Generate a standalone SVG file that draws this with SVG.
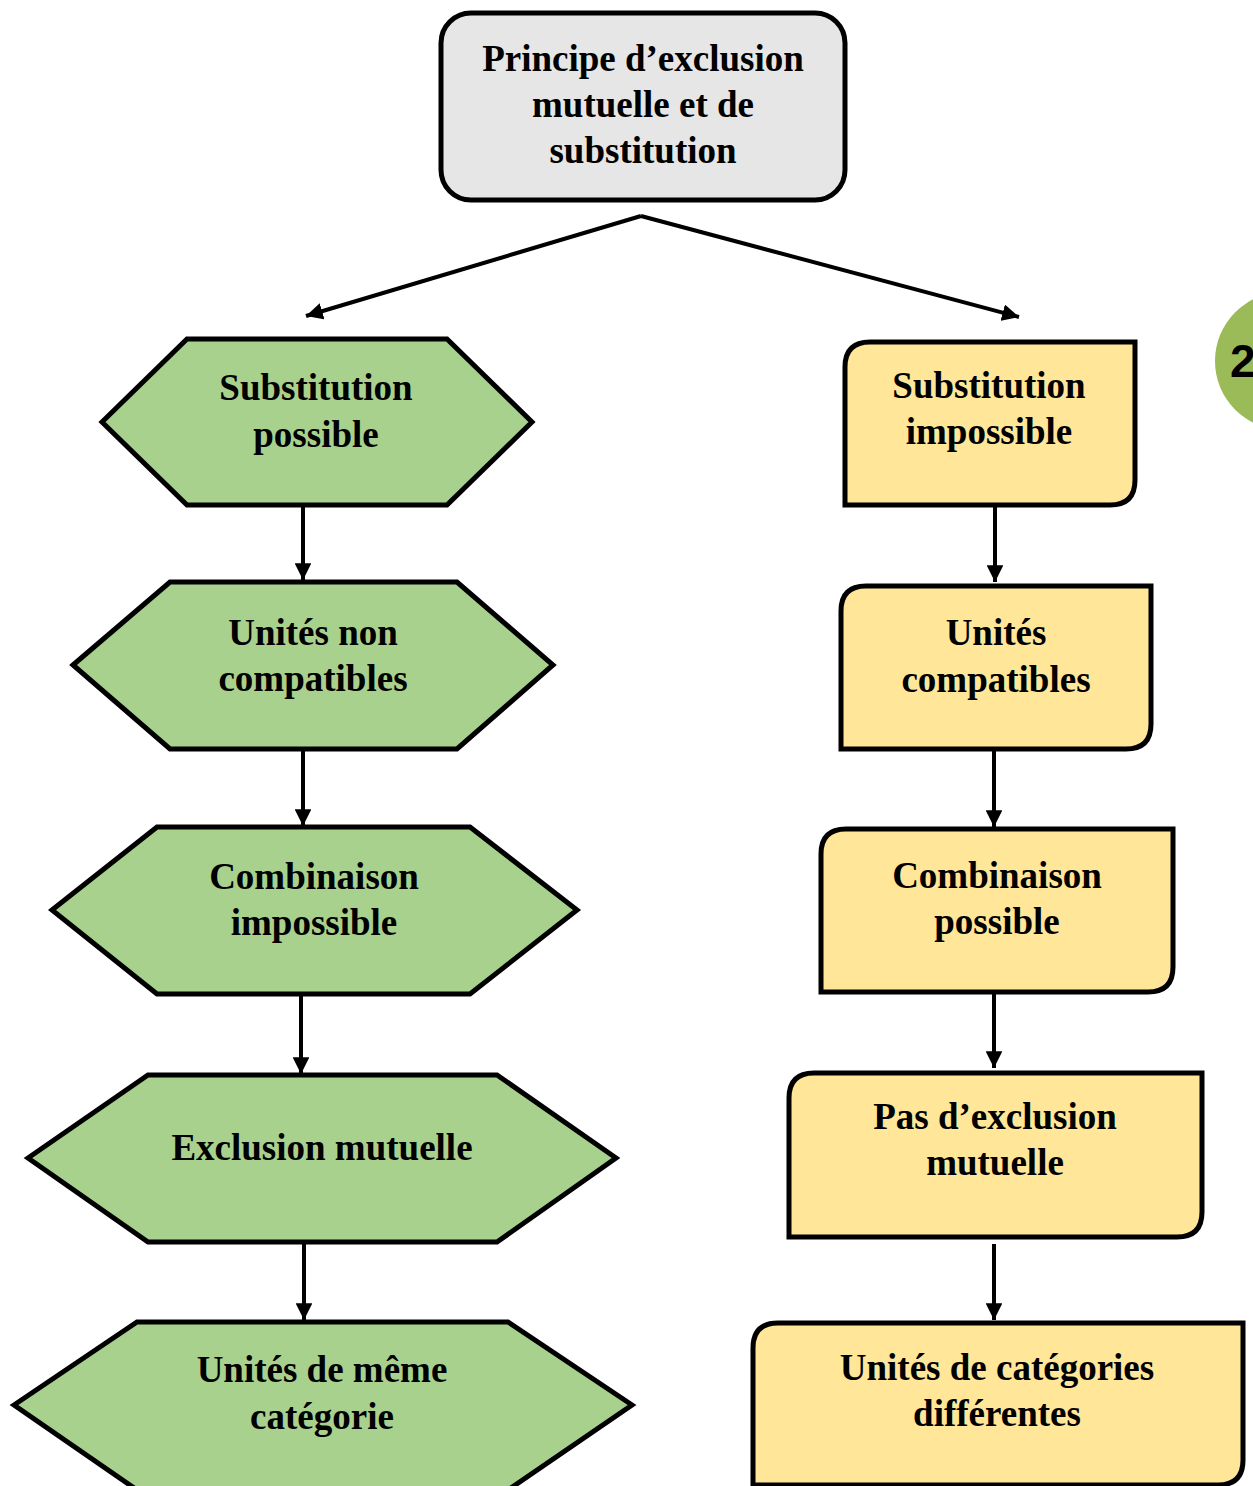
<svg xmlns="http://www.w3.org/2000/svg" width="1253" height="1486" viewBox="0 0 1253 1486">
<style>
.t{font-family:"Liberation Serif","Times New Roman",serif;font-weight:bold;font-size:37px;fill:#000;text-anchor:middle}
.g{fill:#a9d18e;stroke:#000;stroke-width:5;stroke-linejoin:miter}
.y{fill:#ffe699;stroke:#000;stroke-width:5}
.c{stroke:#000;stroke-width:4;fill:none}
</style>
<defs>
<marker id="ah" viewBox="0 0 10 10" refX="10" refY="5" markerWidth="4.2" markerHeight="4.2" markerUnits="strokeWidth" orient="auto">
<path d="M0,0 L10,5 L0,10 Z" fill="#000"/>
</marker>
</defs>
<rect width="1253" height="1486" fill="#fff"/>

<g id="badge">
<circle cx="1284" cy="361" r="69" fill="#9bbb59"/>
<text x="1230" y="377" font-family="Liberation Sans, Arial, sans-serif" font-weight="bold" font-size="46px" fill="#000">2</text>
</g>

<g id="connectors">
<path class="c" d="M641,216 L306,316" marker-end="url(#ah)"/>
<path class="c" d="M641,216 L1019,317" marker-end="url(#ah)"/>
<path class="c" d="M303,506 L303,580" marker-end="url(#ah)"/>
<path class="c" d="M303,750 L303,826" marker-end="url(#ah)"/>
<path class="c" d="M301,996 L301,1074" marker-end="url(#ah)"/>
<path class="c" d="M304,1243 L304,1320" marker-end="url(#ah)"/>
<path class="c" d="M995,506 L995,582" marker-end="url(#ah)"/>
<path class="c" d="M994,750 L994,827" marker-end="url(#ah)"/>
<path class="c" d="M994,993 L994,1068" marker-end="url(#ah)"/>
<path class="c" d="M994,1244 L994,1320" marker-end="url(#ah)"/>
</g>

<g id="root">
<rect x="441" y="13" width="404" height="187" rx="30" ry="30" fill="#e6e6e6" stroke="#000" stroke-width="5"/>
<text class="t" x="643" y="71">Principe d’exclusion</text>
<text class="t" x="643" y="117">mutuelle et de</text>
<text class="t" x="643" y="163">substitution</text>
</g>

<g id="g1">
<polygon class="g" points="102,422 187,339 447,339 532,422 447,505 187,505"/>
<text class="t" x="316" y="400">Substitution</text>
<text class="t" x="316" y="447">possible</text>
</g>
<g id="g2">
<polygon class="g" points="73,665 170,582 457,582 553,665 457,749 170,749"/>
<text class="t" x="313" y="645">Unités non</text>
<text class="t" x="313" y="691">compatibles</text>
</g>
<g id="g3">
<polygon class="g" points="52,910 157,827 470,827 577,910 470,994 157,994"/>
<text class="t" x="314" y="889">Combinaison</text>
<text class="t" x="314" y="935">impossible</text>
</g>
<g id="g4">
<polygon class="g" points="28,1158 148,1075 497,1075 616,1158 497,1242 148,1242"/>
<text class="t" x="322" y="1160">Exclusion mutuelle</text>
</g>
<g id="g5">
<polygon class="g" points="14,1405 137,1322 508,1322 632,1405 508,1490 137,1490"/>
<text class="t" x="322" y="1382">Unités de même</text>
<text class="t" x="322" y="1429">catégorie</text>
</g>

<g id="y1">
<path class="y" d="M870,342 L1135,342 L1135,480 Q1135,505 1110,505 L845,505 L845,367 Q845,342 870,342 Z"/>
<text class="t" x="989" y="398">Substitution</text>
<text class="t" x="989" y="444">impossible</text>
</g>
<g id="y2">
<path class="y" d="M866,586 L1151,586 L1151,724 Q1151,749 1126,749 L841,749 L841,611 Q841,586 866,586 Z"/>
<text class="t" x="996" y="645">Unités</text>
<text class="t" x="996" y="692">compatibles</text>
</g>
<g id="y3">
<path class="y" d="M846,829 L1173,829 L1173,967 Q1173,992 1148,992 L821,992 L821,854 Q821,829 846,829 Z"/>
<text class="t" x="997" y="888">Combinaison</text>
<text class="t" x="997" y="934">possible</text>
</g>
<g id="y4">
<path class="y" d="M814,1073 L1202,1073 L1202,1212 Q1202,1237 1177,1237 L789,1237 L789,1098 Q789,1073 814,1073 Z"/>
<text class="t" x="995" y="1129">Pas d’exclusion</text>
<text class="t" x="995" y="1175">mutuelle</text>
</g>
<g id="y5">
<path class="y" d="M778,1323 L1243,1323 L1243,1460 Q1243,1485 1218,1485 L753,1485 L753,1348 Q753,1323 778,1323 Z"/>
<text class="t" x="997" y="1380">Unités de catégories</text>
<text class="t" x="997" y="1426">différentes</text>
</g>
</svg>
